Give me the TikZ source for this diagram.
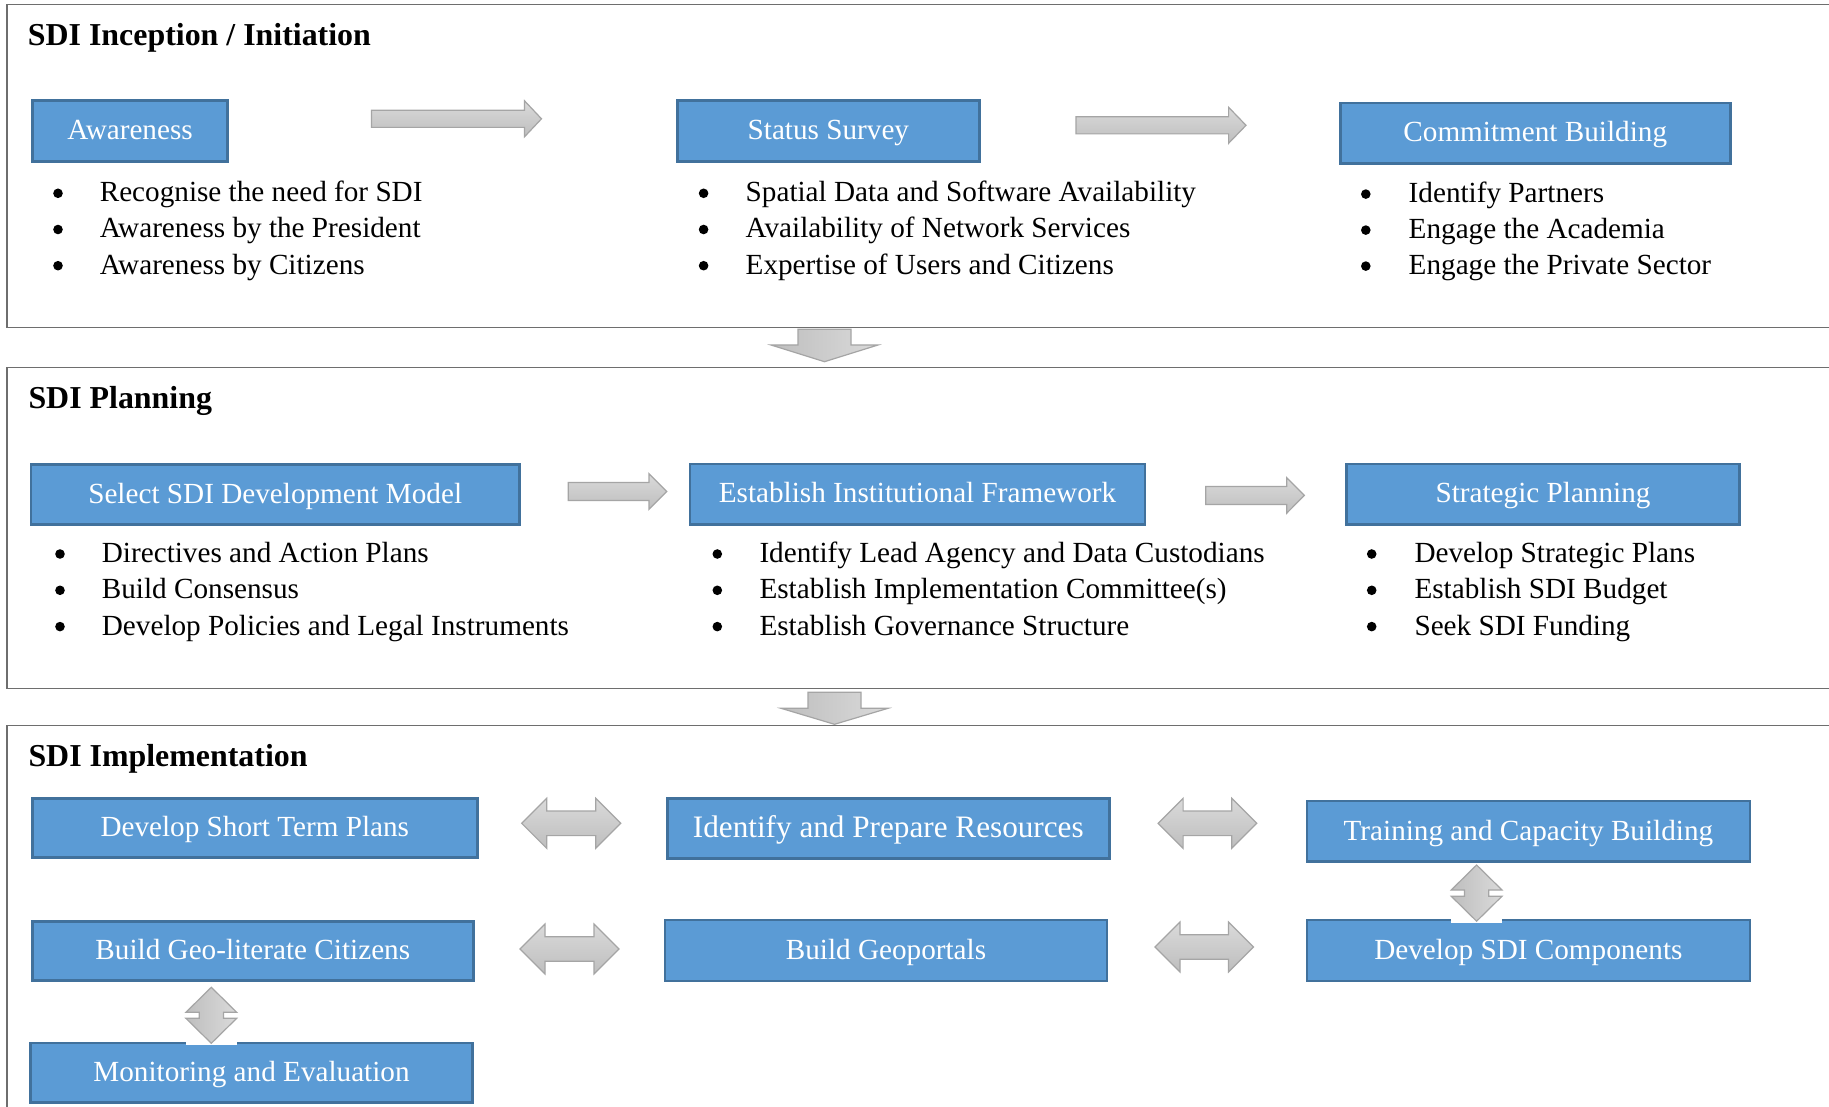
\documentclass[tikz,border=0pt]{standalone}
\usepackage{fontspec}
\setmainfont{Liberation Serif}
\usetikzlibrary{calc}

\definecolor{boxfill}{HTML}{5B9BD5}
\definecolor{boxline}{HTML}{41719C}
\definecolor{panelline}{HTML}{6E6E6E}
\definecolor{arrowline}{HTML}{A5A5A5}
\definecolor{arrowlight}{HTML}{DADADA}
\definecolor{arrowdark}{HTML}{BEBEBE}

\newcommand\pnltext{\fontsize{29.2}{35}\selectfont}
\newcommand\pnltextbig{\fontsize{31.2}{37}\selectfont}
\newcommand\pnlhead{\fontsize{31.9}{38}\selectfont\bfseries}

\tikzset{
  panel/.style={draw=panelline, line width=1.4pt},
  stagebox/.style={draw=boxline, fill=boxfill, line width=2.6pt, text=white,
    font=\pnltext, inner sep=0pt, text height=21.5pt, text depth=4.1pt},
  heading/.style={anchor=base west, inner sep=0pt, font=\pnlhead},
  item/.style={anchor=base west, inner sep=0pt, font=\pnltext},
  dot/.style={circle, fill=black, inner sep=0pt, minimum size=9.6pt},
  blockarrow/.style={draw=arrowline, line width=1.2pt, line join=miter,
    top color=arrowlight, bottom color=arrowdark},
  vblockarrow/.style={draw=arrowline, line width=1.2pt, line join=miter,
    left color=arrowdark, right color=arrowlight},
}

% single block arrow pointing right: tail, tip, shaft half, head half, head length
\newcommand\rightblock[5]{%
  \path[blockarrow] let \p1=(#1), \p2=(#2) in
    (\x1,\y1+#3) -- (\x2-#5,\y1+#3) -- (\x2-#5,\y1+#4) -- (\x2,\y1)
    -- (\x2-#5,\y1-#4) -- (\x2-#5,\y1-#3) -- (\x1,\y1-#3) -- cycle;}

% single block arrow pointing down: tail, tip, shaft half, head half, head length
\newcommand\downblock[5]{%
  \path[vblockarrow] let \p1=(#1), \p2=(#2) in
    (\x1-#3,\y1) -- (\x1+#3,\y1) -- (\x1+#3,\y2+#5) -- (\x1+#4,\y2+#5)
    -- (\x1,\y2) -- (\x1-#4,\y2+#5) -- (\x1-#3,\y2+#5) -- cycle;}

% two-headed horizontal block arrow: left tip, right tip, shaft half, head half, head length
\newcommand\twowayh[5]{%
  \path[blockarrow] let \p1=(#1), \p2=(#2) in
    (\x1,\y1) -- (\x1+#5,\y1+#4) -- (\x1+#5,\y1+#3) -- (\x2-#5,\y1+#3)
    -- (\x2-#5,\y1+#4) -- (\x2,\y1) -- (\x2-#5,\y1-#4) -- (\x2-#5,\y1-#3)
    -- (\x1+#5,\y1-#3) -- (\x1+#5,\y1-#4) -- cycle;}

% two-headed vertical block arrow: upper tip, lower tip, shaft half, head half, head length
\newcommand\twowayv[5]{%
  \fill[white] let \p2=(#2) in (\x2-#4,\y2-1.8pt) rectangle (\x2+#4,\y2+1.8pt);
  \path[vblockarrow] let \p1=(#1), \p2=(#2) in
    (\x1,\y1) -- (\x1+#4,\y1-#5) -- (\x1+#3,\y1-#5) -- (\x1+#3,\y2+#5)
    -- (\x1+#4,\y2+#5) -- (\x1,\y2) -- (\x1-#4,\y2+#5) -- (\x1-#3,\y2+#5)
    -- (\x1-#3,\y1-#5) -- (\x1-#4,\y1-#5) -- cycle;}

% one bulleted line: name, bullet x, text x, baseline y, text
\newcommand\itemrow[5]{%
  \node[dot] (#1b) at (#2,#4-8.4) {};
  \node[item] (#1) at (#3,#4) {#5};}

\begin{document}
\begin{tikzpicture}[x=1pt,y=-1pt]
\useasboundingbox (0,0) rectangle (1829,1107);
\clip (0,0) rectangle (1829,1107);
\fill[white] (0,0) rectangle (1829,1107);

% ---------- stage panels ----------
\draw[panel] (7,4.7) rectangle (1845,327.3);
\draw[panel] (7,367.3) rectangle (1845,688.3);
\draw[panel] (7,725.7) rectangle (1845,1125);

\node[heading] (h1) at (27.7,45.7) {SDI Inception / Initiation};
\node[heading] (h2) at (28.3,408.3) {SDI Planning};
\node[heading] (h3) at (28.3,766.7) {SDI Implementation};

% ---------- inception ----------
\node[stagebox, minimum width=195.3pt, minimum height=60.6pt] (aware) at (130.05,131) {Awareness};
\node[stagebox, minimum width=302.3pt, minimum height=60.6pt] (status) at (828.35,131) {Status Survey};
\node[stagebox, minimum width=390.1pt, minimum height=60.3pt] (commit) at (1535.25,133.15) {Commitment Building};

\coordinate (ra1s) at (371.5,118.8); \coordinate (ra1e) at (541.5,118.8);
\coordinate (ra2s) at (1076,125.3);  \coordinate (ra2e) at (1246,125.3);
\rightblock{ra1s}{ra1e}{8.6pt}{18pt}{17pt}
\rightblock{ra2s}{ra2e}{8.6pt}{18pt}{17.4pt}

\itemrow{a1}{58}{99.6}{201.7}{Recognise the need for SDI}
\itemrow{a2}{58}{99.6}{237.9}{Awareness by the President}
\itemrow{a3}{58}{99.6}{274.1}{Awareness by Citizens}
\itemrow{s1}{703.6}{745.5}{201.7}{Spatial Data and Software Availability}
\itemrow{s2}{703.6}{745.5}{237.9}{Availability of Network Services}
\itemrow{s3}{703.6}{745.5}{274.1}{Expertise of Users and Citizens}
\itemrow{c1}{1365.8}{1408.5}{202.5}{Identify Partners}
\itemrow{c2}{1365.8}{1408.5}{238.5}{Engage the Academia}
\itemrow{c3}{1365.8}{1408.5}{274.5}{Engage the Private Sector}

\coordinate (da1s) at (824.5,329.3); \coordinate (da1e) at (824.5,361.7);
\downblock{da1s}{da1e}{26.5pt}{53.5pt}{16.7pt}

% ---------- planning ----------
\node[stagebox, minimum width=488.4pt, minimum height=60pt] (select) at (275.2,494.3) {Select SDI Development Model};
\node[stagebox, minimum width=455pt, minimum height=60.3pt] (inst) at (917.5,494.15) {Establish Institutional Framework};
\node[stagebox, minimum width=392.6pt, minimum height=60.3pt] (strat) at (1543,494.15) {Strategic Planning};

\coordinate (ra3s) at (568.3,491.5);  \coordinate (ra3e) at (666.7,491.5);
\coordinate (ra4s) at (1205.7,495.4); \coordinate (ra4e) at (1304.3,495.4);
\rightblock{ra3s}{ra3e}{9pt}{17.8pt}{17.7pt}
\rightblock{ra4s}{ra4e}{9pt}{17.8pt}{17.6pt}

\itemrow{p1}{60}{101.7}{562.4}{Directives and Action Plans}
\itemrow{p2}{60}{101.7}{598.7}{Build Consensus}
\itemrow{p3}{60}{101.7}{635}{Develop Policies and Legal Instruments}
\itemrow{i1}{717.3}{759.3}{562.4}{Identify Lead Agency and Data Custodians}
\itemrow{i2}{717.3}{759.3}{598.7}{Establish Implementation Committee(s)}
\itemrow{i3}{717.3}{759.3}{635}{Establish Governance Structure}
\itemrow{g1}{1371.7}{1414.3}{562.4}{Develop Strategic Plans}
\itemrow{g2}{1371.7}{1414.3}{598.7}{Establish SDI Budget}
\itemrow{g3}{1371.7}{1414.3}{635}{Seek SDI Funding}

\coordinate (da2s) at (834.5,692.3); \coordinate (da2e) at (834.5,724.3);
\downblock{da2s}{da2e}{26.5pt}{53.5pt}{16pt}

% ---------- implementation ----------
\node[stagebox, minimum width=445pt, minimum height=59.4pt] (short) at (254.8,828) {Develop Short Term Plans};
\node[stagebox, font=\pnltextbig, minimum width=442pt, minimum height=60pt] (ident) at (888.3,828.3) {Identify and Prepare Resources};
\node[stagebox, minimum width=443pt, minimum height=60.7pt] (train) at (1528.4,831.35) {Training and Capacity Building};
\node[stagebox, minimum width=441pt, minimum height=59.4pt] (geolit) at (252.8,951) {Build Geo-literate Citizens};
\node[stagebox, minimum width=442pt, minimum height=61pt] (geoport) at (886,950.5) {Build Geoportals};
\node[stagebox, minimum width=443pt, minimum height=61pt] (comp) at (1528.4,950.5) {Develop SDI Components};
\node[stagebox, minimum width=441.6pt, minimum height=59.7pt] (monit) at (251.5,1072.85) {Monitoring and Evaluation};

\coordinate (dh1s) at (521.7,823.3); \coordinate (dh1e) at (620.7,823.3);
\coordinate (dh2s) at (1158.1,823.3); \coordinate (dh2e) at (1256.7,823.3);
\coordinate (dh3s) at (520,949);     \coordinate (dh3e) at (619,949);
\coordinate (dh4s) at (1155,947);    \coordinate (dh4e) at (1253.4,947);
\twowayh{dh1s}{dh1e}{12.3pt}{25pt}{25pt}
\twowayh{dh2s}{dh2e}{12.3pt}{25pt}{25pt}
\twowayh{dh3s}{dh3e}{12.3pt}{25pt}{25pt}
\twowayh{dh4s}{dh4e}{12.3pt}{25pt}{25pt}

\coordinate (dv1s) at (211.3,987.3);  \coordinate (dv1e) at (211.3,1043.3);
\coordinate (dv2s) at (1476.6,865);   \coordinate (dv2e) at (1476.6,921.2);
\twowayv{dv1s}{dv1e}{12.1pt}{25.4pt}{25pt}
\twowayv{dv2s}{dv2e}{12.1pt}{25.4pt}{25pt}

\end{tikzpicture}
\end{document}
